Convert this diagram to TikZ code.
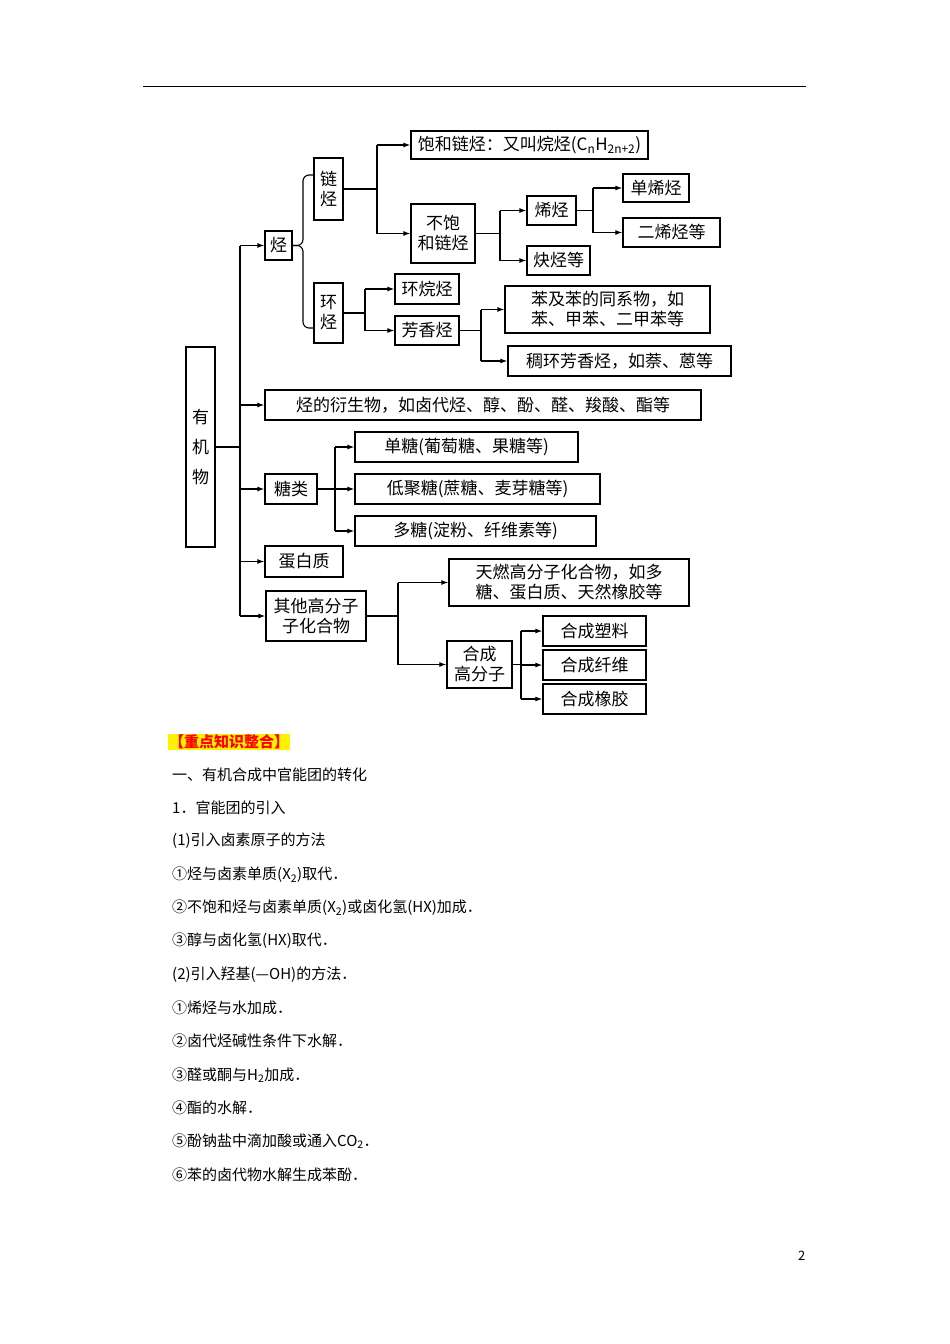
\documentclass[tikz,border=0pt]{standalone}
\usepackage{fontspec}
\setmainfont{Noto Sans CJK SC}
\usetikzlibrary{arrows.meta}
\begin{document}
\begin{tikzpicture}[x=1pt,y=-1pt,
  box/.style={draw,line width=1.3pt,inner sep=1pt,align=center,font=\fontsize{17}{20}\selectfont},
  ln/.style={line width=1.1pt},
  ar/.style={line width=1.1pt,-{Latex[length=7pt,width=5pt]}},
  txt/.style={anchor=west,inner sep=0,font=\fontsize{15}{18}\selectfont}]
\useasboundingbox (0,0) rectangle (950,1344);
\draw[line width=0.8pt] (143,86) -- (806,86);
% nodes
\node[box,minimum width=29,minimum height=200] (yjw) at (200.5,447) {有\\[10pt]机\\[10pt]物};
\node[box,minimum width=27,minimum height=29] (ting) at (278.5,245.5) {烃};
\node[box,minimum width=29,minimum height=62] (lt) at (328.5,189) {链\\烃};
\node[box,minimum width=29,minimum height=60] (ht) at (328.5,313) {环\\烃};
\node[box,minimum width=237,minimum height=28] (bh) at (529.5,145) {饱和链烃：又叫烷烃(C\textsubscript{n}H\textsubscript{2n+2})};
\node[box,minimum width=64,minimum height=59] (bbh) at (443,233.5) {不饱\\和链烃};
\node[box,minimum width=49,minimum height=29] (xt) at (551.5,210.5) {烯烃};
\node[box,minimum width=63,minimum height=29] (qt) at (558.5,260.5) {炔烃等};
\node[box,minimum width=66,minimum height=28] (dxt) at (656,188) {单烯烃};
\node[box,minimum width=97,minimum height=29] (exs) at (671.5,232.5) {二烯烃等};
\node[box,minimum width=64,minimum height=30] (hwt) at (427,289) {环烷烃};
\node[box,minimum width=64,minimum height=29] (fxt) at (427,330.5) {芳香烃};
\node[box,minimum width=205,minimum height=47] (bj) at (607.5,309.5) {苯及苯的同系物，如\\苯、甲苯、二甲苯等};
\node[box,minimum width=223,minimum height=30] (ch) at (619.5,361) {稠环芳香烃，如萘、蒽等};
\node[box,minimum width=436,minimum height=30] (ys) at (483,405) {烃的衍生物，如卤代烃、醇、酚、醛、羧酸、酯等};
\node[box,minimum width=52,minimum height=30] (tl) at (291,489) {糖类};
\node[box,minimum width=223,minimum height=30] (dt) at (466.5,447) {单糖(葡萄糖、果糖等)};
\node[box,minimum width=245,minimum height=30] (djt) at (477.5,489) {低聚糖(蔗糖、麦芽糖等)};
\node[box,minimum width=241,minimum height=30] (duot) at (475.5,531) {多糖(淀粉、纤维素等)};
\node[box,minimum width=78,minimum height=31] (dbz) at (304,561.5) {蛋白质};
\node[box,minimum width=100,minimum height=50] (qt2) at (316,616) {其他高分子\\子化合物};
\node[box,minimum width=240,minimum height=47] (tr) at (569,582.5) {天燃高分子化合物，如多\\糖、蛋白质、天然橡胶等};
\node[box,minimum width=65,minimum height=47] (hc) at (479.5,664.5) {合成\\高分子};
\node[box,minimum width=103,minimum height=30] (sl) at (594.5,631) {合成塑料};
\node[box,minimum width=103,minimum height=30] (xw) at (594.5,665) {合成纤维};
\node[box,minimum width=103,minimum height=30] (xj) at (594.5,699) {合成橡胶};
% connectors
\coordinate (T) at (240,447);
\draw[ln] (yjw.east) -- (T);
\draw[ln] (240,245.5) -- (240,616);
\foreach \n in {ting,ys,tl,dbz,qt2}{\draw[ar] (240,0 |- \n.west) -- (\n.west);}
% brace
\draw[ln,rounded corners=6pt] (ting.east) -- (303,245.5) -- (303,175) -- (lt.west|-,175) ;
\draw[ln,rounded corners=6pt] (ting.east) -- (303,245.5) -- (303,328) -- (314,328);
\draw[ln] (lt.east) -- (377,189) (377,145) -- (377,233.5);
\draw[ar] (377,145) -- (bh.west); \draw[ar] (377,233.5) -- (bbh.west);
\draw[ln] (bbh.east) -- (500,233.5) (500,210.5) -- (500,260.5);
\draw[ar] (500,210.5) -- (xt.west); \draw[ar] (500,260.5) -- (qt.west);
\draw[ln] (xt.east) -- (593,210.5) (593,188) -- (593,232.5);
\draw[ar] (593,188) -- (dxt.west); \draw[ar] (593,232.5) -- (exs.west);
\draw[ln] (ht.east) -- (365,313) (365,289) -- (365,330.5);
\draw[ar] (365,289) -- (hwt.west); \draw[ar] (365,330.5) -- (fxt.west);
\draw[ln] (fxt.east) -- (481,330.5) (481,309.5) -- (481,361);
\draw[ar] (481,309.5) -- (bj.west); \draw[ar] (481,361) -- (ch.west);
\draw[ln] (335,447) -- (335,531);
\foreach \n in {dt,djt,duot}{\draw[ar] (335,0 |- \n.west) -- (\n.west);}
\draw[ln] (tl.east) -- (335,489);
\draw[ln] (qt2.east) -- (398,616) (398,582.5) -- (398,664.5);
\draw[ar] (398,582.5) -- (tr.west); \draw[ar] (398,664.5) -- (hc.west);
\draw[ln] (hc.east) -- (521,664.5) (521,631) -- (521,699);
\foreach \n in {sl,xw,xj}{\draw[ar] (521,0 |- \n.west) -- (\n.west);}
% text
\node[txt,fill=yellow,text=red,font=\fontsize{15}{18}\bfseries\selectfont,inner sep=1pt] (h0) at (168,742) {【重点知识整合】};
\node[txt] (t1) at (172,775) {一、有机合成中官能团的转化};
\node[txt] (t2) at (172,808) {1．官能团的引入};
\node[txt] (t3) at (172,841) {(1)引入卤素原子的方法};
\node[txt] (t4) at (172,875) {①烃与卤素单质(X\textsubscript{2})取代．};
\node[txt] (t5) at (172,908) {②不饱和烃与卤素单质(X\textsubscript{2})或卤化氢(HX)加成．};
\node[txt] (t6) at (172,941) {③醇与卤化氢(HX)取代．};
\node[txt] (t7) at (172,975) {(2)引入羟基(—OH)的方法．};
\node[txt] (t8) at (172,1008) {①烯烃与水加成．};
\node[txt] (t9) at (172,1041) {②卤代烃碱性条件下水解．};
\node[txt] (t10) at (172,1075) {③醛或酮与H\textsubscript{2}加成．};
\node[txt] (t11) at (172,1108) {④酯的水解．};
\node[txt] (t12) at (172,1141) {⑤酚钠盐中滴加酸或通入CO\textsubscript{2}．};
\node[txt] (t13) at (172,1175) {⑥苯的卤代物水解生成苯酚．};
\node[txt,font=\fontsize{13}{15}\selectfont] (pg) at (798,1256) {2};
\end{tikzpicture}
\end{document}
